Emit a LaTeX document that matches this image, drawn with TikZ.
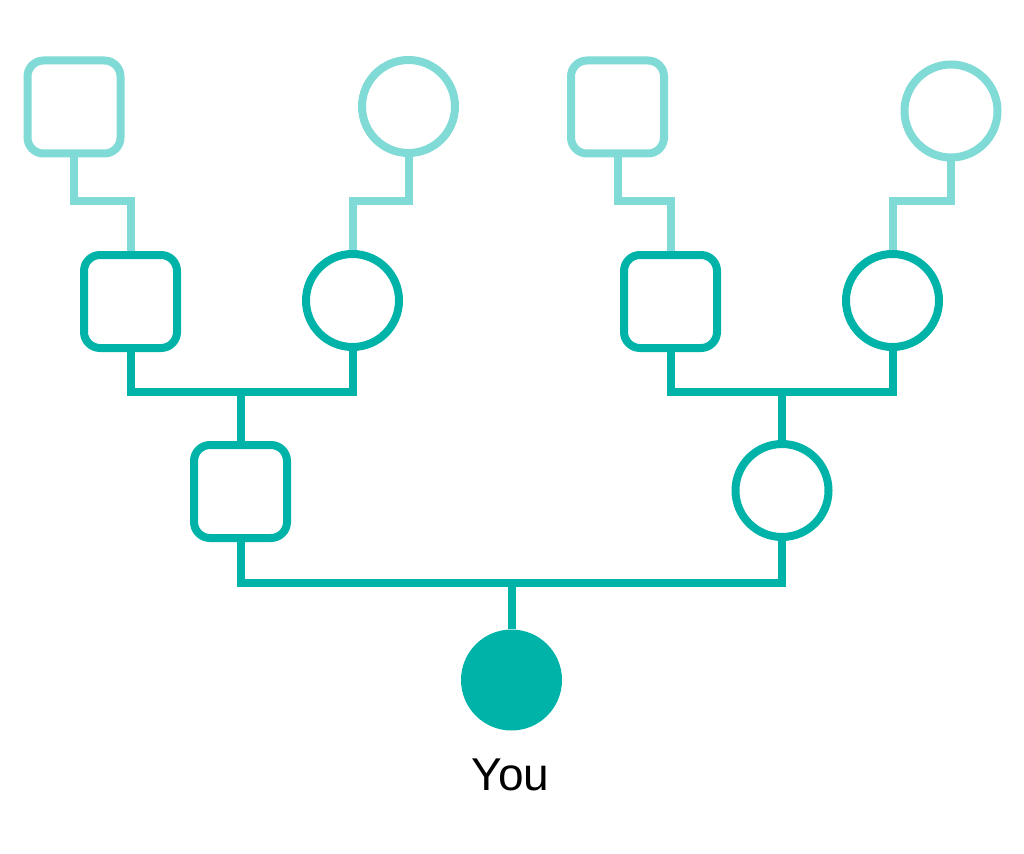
\documentclass[tikz,border=0pt]{standalone}
\usepackage{fontspec}
\setmainfont{Liberation Sans}
\definecolor{darkteal}{HTML}{00B3A8}
\definecolor{lightteal}{HTML}{80DAD5}
\begin{document}
\begin{tikzpicture}[x=1pt,y=-1pt,
  sqnode/.style={draw, rectangle, rounded corners=16pt, minimum size=93pt, inner sep=0pt, line width=8pt},
  cinode/.style={draw, circle, minimum size=93pt, inner sep=0pt, line width=8pt},
  lightlink/.style={draw=lightteal, line width=8pt, line join=miter},
  darklink/.style={draw=darkteal, line width=8pt, line join=miter}]
\useasboundingbox (0,0) rectangle (1024,853);
% grandparents
\node[sqnode, draw=lightteal] (gpa1) at (74,107) {};
\node[cinode, draw=lightteal] (gma1) at (408.5,106.5) {};
\node[sqnode, draw=lightteal] (gpa2) at (617.5,107) {};
\node[cinode, draw=lightteal] (gma2) at (951,111) {};
% parents' generation
\node[sqnode, draw=darkteal] (pa1) at (130.5,301.5) {};
\node[cinode, draw=darkteal] (ma1) at (352.5,300.5) {};
\node[sqnode, draw=darkteal] (pa2) at (670.5,301.5) {};
\node[cinode, draw=darkteal] (ma2) at (892.5,300.5) {};
% parents
\node[sqnode, draw=darkteal] (father) at (240.5,491.5) {};
\node[cinode, draw=darkteal] (mother) at (782,490.5) {};
% you
\node[circle, fill=darkteal, minimum size=101pt, inner sep=0pt] (you) at (511.5,680) {};
\node[anchor=base, inner sep=0pt, font=\fontsize{46}{50}\selectfont] (youlabel) at (510.5,790) {You};
% levels
\coordinate (lv1) at (0,201);
\coordinate (lv2) at (0,392);
\coordinate (lv3) at (0,583);
% light links
\draw[lightlink] (gpa1.south) -- (gpa1.south |- lv1) -| (pa1.north);
\draw[lightlink] (gma1.south) -- (gma1.south |- lv1) -| (ma1.north);
\draw[lightlink] (gpa2.south) -- (gpa2.south |- lv1) -| (pa2.north);
\draw[lightlink] (gma2.south) -- (gma2.south |- lv1) -| (ma2.north);
% dark links
\draw[darklink] (pa1.south) -- (pa1.south |- lv2) -| (ma1.south);
\draw[darklink] (father.north |- lv2) -- (father.north);
\draw[darklink] (pa2.south) -- (pa2.south |- lv2) -| (ma2.south);
\draw[darklink] (mother.north |- lv2) -- (mother.north);
\draw[darklink] (father.south) -- (father.south |- lv3) -| (mother.south);
\draw[darklink] (you.north |- lv3) -- (you.north);
\end{tikzpicture}
\end{document}
